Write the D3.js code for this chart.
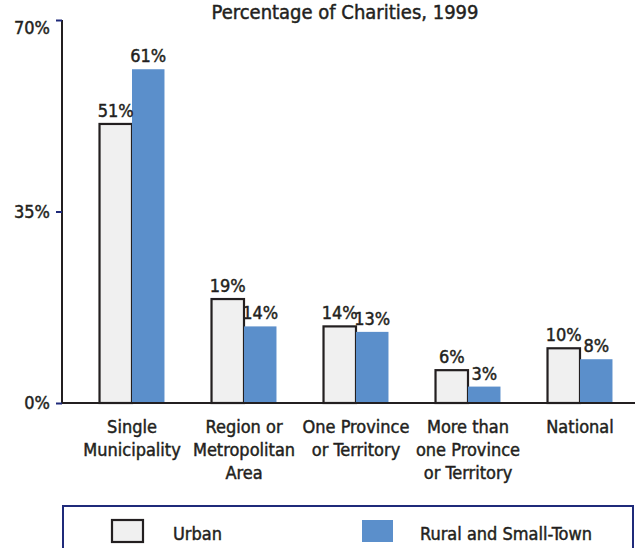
<!DOCTYPE html>
<html>
<head>
<meta charset="utf-8">
<script src="https://d3js.org/d3.v7.min.js"></script>
<style>
  body { margin: 0; background: #fff; }
  text { font-family: "Liberation Sans Narrow", "DejaVu Sans Condensed", "Roboto", sans-serif; fill: #231f20;
         stroke: #231f20; stroke-width: 0.45px; }
</style>
</head>
<body>
<script>
  // data
  const categories = ["Single Municipality", "Region or Metropolitan Area", "One Province or Territory", "More than one Province or Territory", "National"]
  const categoryLines = [["Single", "Municipality"], ["Region or", "Metropolitan", "Area"], ["One Province", "or Territory"], ["More than", "one Province", "or Territory"], ["National"]]
  const series = ["Urban", "Rural and Small-Town"]
  const urban = [51, 19, 14, 6, 10]
  const rural = [61, 14, 13, 3, 8]
  const yTicks = [0, 35, 70]
  const title = "Percentage of Charities, 1999"

  const width = 635, height = 548
  const svg = d3.select("body").append("svg")
    .attr("width", width)
    .attr("height", height)

  const y = d3.scaleLinear().domain([0, 70]).range([403, 20])
  const x = d3.scaleBand().domain(categories).range([76, 636])
    .paddingInner(0.42).paddingOuter(0.21)
  const xs = d3.scaleBand().domain(series).range([0, x.bandwidth()])
  const fills = {"Urban": "#f0f0f0", "Rural and Small-Town": "#5b8fcb"}

  // title
  svg.append("text")
    .attr("x", 345).attr("y", 19)
    .attr("text-anchor", "middle")
    .style("font-size", "20px")
    .text(title)

  // bars
  const rows = categories.map((c, i) => ({cat: c, vals: [{s: series[0], v: urban[i]}, {s: series[1], v: rural[i]}]}))
  const g = svg.append("g")
  const grp = g.selectAll("g").data(rows).join("g")
    .attr("transform", d => `translate(${x(d.cat)},0)`)

  grp.selectAll("rect").data(d => d.vals).join("rect")
    .attr("x", d => xs(d.s))
    .attr("y", d => y(d.v))
    .attr("width", xs.bandwidth())
    .attr("height", d => y(0) - y(d.v))
    .attr("fill", d => fills[d.s])
    .attr("stroke", d => d.s == "Urban" ? "#231f20" : "none")
    .attr("stroke-width", 2.2)

  grp.selectAll("text.val").data(d => d.vals).join("text")
    .attr("class", "val")
    .attr("x", d => xs(d.s) + xs.bandwidth() / 2)
    .attr("y", d => y(d.v) - 7)
    .attr("text-anchor", "middle")
    .style("font-size", "18px")
    .text(d => d.v + "%")

  // axes
  svg.append("line")
    .attr("x1", 62).attr("x2", 62)
    .attr("y1", y(70)).attr("y2", y(0))
    .attr("stroke", "#231f20").attr("stroke-width", 2)
  svg.append("line")
    .attr("x1", 61).attr("x2", width)
    .attr("y1", y(0)).attr("y2", y(0))
    .attr("stroke", "#231f20").attr("stroke-width", 2)

  const yAxis = svg.append("g")
    .attr("transform", "translate(62,0)")
    .call(d3.axisLeft(y).tickValues(yTicks).tickSize(6).tickFormat(d => d + "%"))
  yAxis.select(".domain").remove()
  yAxis.selectAll(".tick line").attr("stroke", "#1f2a7a").attr("stroke-width", 2)
  yAxis.selectAll(".tick text")
    .attr("x", -12)
    .attr("dy", (d) => d == 70 ? "0.75em" : "0.32em")
    .style("font-size", "18px")
    .style("font-family", null)
    .attr("fill", null)

  // category labels
  const cl = svg.append("g").selectAll("text").data(categories).join("text")
    .attr("x", d => x(d) + x.bandwidth() / 2)
    .attr("y", 433)
    .attr("text-anchor", "middle")
    .style("font-size", "18px")
  cl.selectAll("tspan").data((d, i) => categoryLines[i]).join("tspan")
    .attr("x", function () { return this.parentNode.getAttribute("x") })
    .attr("dy", (d, i) => i == 0 ? 0 : 23)
    .text(d => d)

  // legend
  svg.append("rect")
    .attr("x", 63).attr("y", 506)
    .attr("width", 570).attr("height", 60)
    .attr("fill", "none")
    .attr("stroke", "#1f2a7a").attr("stroke-width", 2)

  const lx = [112, 362]
  const leg = svg.append("g").selectAll("g").data(series).join("g")
    .attr("transform", (d, i) => `translate(${lx[i]},520)`)
  leg.append("rect")
    .attr("width", 31).attr("height", 22)
    .attr("fill", d => fills[d])
    .attr("stroke", d => d == "Urban" ? "#231f20" : "none")
    .attr("stroke-width", 2.2)
  leg.append("text")
    .attr("x", (d, i) => i == 0 ? 61 : 58)
    .attr("y", 20)
    .style("font-size", "18px")
    .text(d => d)
</script>
</body>
</html>
